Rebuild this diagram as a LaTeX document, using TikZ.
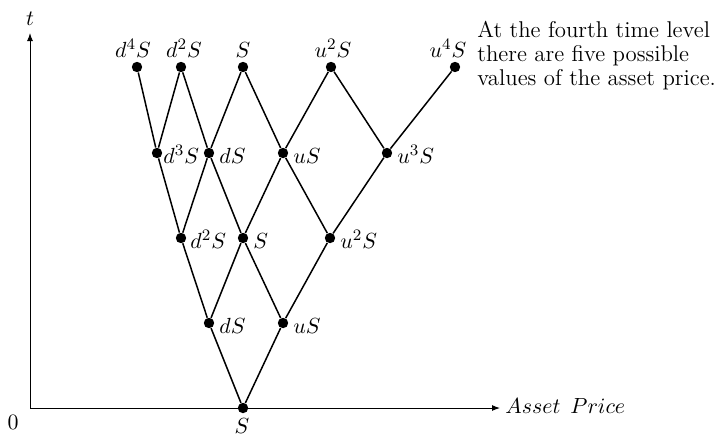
\documentclass[tikz,border=0pt]{standalone}
\usetikzlibrary{arrows.meta}
\begin{document}
\begin{tikzpicture}[x=0.5pt,y=-0.5pt,
  dot/.style={circle,fill=black,inner sep=0pt,minimum size=5.2pt},
  edge/.style={line width=0.75pt},
  axis/.style={line width=0.5pt,-{Latex[length=4pt,width=3pt]}},
  lbl/.style={font=\fontsize{11}{12}\selectfont,inner sep=0pt}]
\useasboundingbox (0,0) rectangle (719,435);
% axes
\coordinate (O) at (30,408);
\coordinate (yend) at (30,33);
\coordinate (xend) at (500,408);
\draw[axis] (O) -- (yend);
\draw[axis] (O) -- (xend);
\node[lbl] (tl) at (30,19) {$t$};
\node[lbl,anchor=base west] (xl) at (505,413) {$Asset\hspace{5pt}Price$};
\node[lbl] (zero) at (13,422) {$0$};
% level 0
\node[dot] (a0) at (243,408) {};
% level 1
\node[dot] (b1) at (209,323) {};
\node[dot] (b2) at (283,323) {};
% level 2
\node[dot] (c1) at (181,238) {};
\node[dot] (c2) at (243,238) {};
\node[dot] (c3) at (330,238) {};
% level 3
\node[dot] (d1) at (157,153) {};
\node[dot] (d2) at (209,153) {};
\node[dot] (d3) at (283,153) {};
\node[dot] (d4) at (387,153) {};
% level 4
\node[dot] (e1) at (137,67) {};
\node[dot] (e2) at (181,67) {};
\node[dot] (e3) at (243,67) {};
\node[dot] (e4) at (331,67) {};
\node[dot] (e5) at (455,67) {};
% edges
\draw[edge] (a0) -- (b1); \draw[edge] (a0) -- (b2);
\draw[edge] (b1) -- (c1); \draw[edge] (b1) -- (c2);
\draw[edge] (b2) -- (c2); \draw[edge] (b2) -- (c3);
\draw[edge] (c1) -- (d1); \draw[edge] (c1) -- (d2);
\draw[edge] (c2) -- (d2); \draw[edge] (c2) -- (d3);
\draw[edge] (c3) -- (d3); \draw[edge] (c3) -- (d4);
\draw[edge] (d1) -- (e1); \draw[edge] (d1) -- (e2);
\draw[edge] (d2) -- (e2); \draw[edge] (d2) -- (e3);
\draw[edge] (d3) -- (e3); \draw[edge] (d3) -- (e4);
\draw[edge] (d4) -- (e4); \draw[edge] (d4) -- (e5);
% labels
\node[lbl,anchor=north] (la0) at (242,418) {$S$};
\node[lbl,anchor=base west] (lb1) at (219,333.5) {$dS$};
\node[lbl,anchor=base west] (lb2) at (293,333.5) {$uS$};
\node[lbl,anchor=base west] (lc1) at (190,248.5) {$d^2S$};
\node[lbl,anchor=base west] (lc2) at (253,248.5) {$S$};
\node[lbl,anchor=base west] (lc3) at (340,248.5) {$u^2S$};
\node[lbl,anchor=base west] (ld1) at (163,163.5) {$d^3S$};
\node[lbl,anchor=base west] (ld2) at (219,163.5) {$dS$};
\node[lbl,anchor=base west] (ld3) at (293,163.5) {$uS$};
\node[lbl,anchor=base west] (ld4) at (397,163.5) {$u^3S$};
\node[lbl,anchor=base] (le1) at (133,57) {$d^4S$};
\node[lbl,anchor=base] (le2) at (184,57) {$d^2S$};
\node[lbl,anchor=base] (le3) at (243,57) {$S$};
\node[lbl,anchor=base] (le4) at (333,57) {$u^2S$};
\node[lbl,anchor=base] (le5) at (448,57) {$u^4S$};
\node[anchor=north west,align=left,inner sep=0pt,font=\fontsize{11.4}{12}\selectfont] (note) at (477,21)
  {At the fourth time level\\there are five possible\\values of the asset price.};
\end{tikzpicture}
\end{document}
